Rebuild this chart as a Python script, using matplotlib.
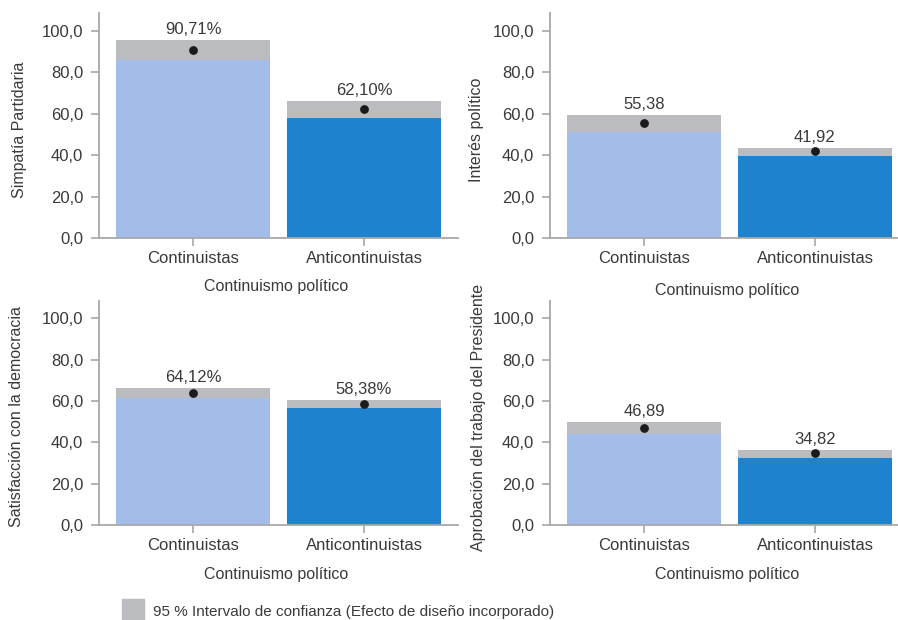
import matplotlib
matplotlib.use("Agg")
import matplotlib.pyplot as plt
from matplotlib.patches import Rectangle

plt.rcParams['font.family'] = ['Liberation Sans', 'DejaVu Sans']

categories = ["Continuistas", "Anticontinuistas"]
xlabel = "Continuismo político"

ylabels = ["Simpatía Partidaria", "Interés político",
           "Satisfacción con la democracia", "Aprobación del trabajo del Presidente"]

means_simpatia = [90.71, 62.10]
lower_simpatia = [85.8, 57.9]
upper_simpatia = [95.5, 66.1]

means_interes = [55.38, 41.92]
lower_interes = [51.2, 39.6]
upper_interes = [59.4, 43.5]

means_satisf = [64.12, 58.38]
lower_satisf = [61.4, 56.6]
upper_satisf = [66.2, 60.4]

means_aprob = [46.89, 34.82]
lower_aprob = [44.0, 32.5]
upper_aprob = [49.8, 36.3]

percent_flags = [True, False, True, False]
yticks = [0, 20, 40, 60, 80, 100]
legend_label = "95 % Intervalo de confianza (Efecto de diseño incorporado)"

bar_colors = ["#a3bde8", "#1e82ce"]
ci_color = "#bbbcc0"
text_color = "#3a3a3a"
spine_color = "#a8a8a8"
FS_TICK = 12
FS_LABEL = 11.5
FS_LEGEND = 11

W, H = 898, 620
fig = plt.figure(figsize=(W / 100, H / 100), dpi=100)

def px_axes(left, right, top, bottom):
    return fig.add_axes([left / W, 1 - bottom / H, (right - left) / W, (bottom - top) / H])

panels = [
    (means_simpatia, lower_simpatia, upper_simpatia, (99, 458, 13, 238.3), 20, 286.7),
    (means_interes, lower_interes, upper_interes, (550, 909, 13, 238.3), 477, 290),
    (means_satisf, lower_satisf, upper_satisf, (99, 458, 300.7, 525.3), 17, 575),
    (means_aprob, lower_aprob, upper_aprob, (550, 909, 300.7, 525.3), 479, 575),
]

for i, (m, lo, up, box, ylab_x, xlab_y) in enumerate(panels):
    ax = px_axes(*box)
    x = list(range(len(categories)))
    ax.bar(x, lo, width=0.9, color=bar_colors, zorder=2)
    ax.bar(x, [u - l for u, l in zip(up, lo)], bottom=lo, width=0.9, color=ci_color, zorder=2)
    ax.scatter(x, m, s=28, color="#1a1a1a", zorder=3)
    for xi, mi, ui in zip(x, m, up):
        s = f"{mi:.2f}".replace(".", ",") + ("%" if percent_flags[i] else "")
        ax.annotate(s, (xi, ui), xytext=(0, 4.5), textcoords="offset points",
                    ha="center", va="baseline", fontsize=FS_TICK, color=text_color)
    ax.set_xlim(-0.55, 1.55)
    ax.set_ylim(0, 108.5)
    ax.set_yticks(yticks)
    ax.set_yticklabels([f"{v:.1f}".replace(".", ",") for v in yticks])
    ax.set_xticks(x)
    ax.set_xticklabels(categories)
    for sp in ["top", "right"]:
        ax.spines[sp].set_visible(False)
    for sp in ["left", "bottom"]:
        ax.spines[sp].set_color(spine_color)
        ax.spines[sp].set_linewidth(1.3)
    ax.tick_params(axis="both", colors=spine_color, labelcolor=text_color,
                   labelsize=FS_TICK, length=5.5, width=1.2)
    ax.tick_params(axis="y", pad=6)
    ax.tick_params(axis="x", pad=4)
    left, right, top, bottom = box
    fig.text(ylab_x / W, 1 - ((top + bottom) / 2 + 4) / H, ylabels[i], rotation=90,
             ha="center", va="center", fontsize=FS_LABEL, color=text_color)
    fig.text(((left + right) / 2 - 2) / W, 1 - xlab_y / H, xlabel,
             ha="center", va="center", fontsize=FS_LABEL, color=text_color)

# legend
fig.patches.append(Rectangle((121.7 / W, 1 - 621 / H), 22.3 / W, 21.7 / H,
                             transform=fig.transFigure, color=ci_color))
fig.text(152.7 / W, 1 - 612 / H, legend_label, ha="left", va="center",
         fontsize=FS_LEGEND, color=text_color)

fig.savefig("out.png", dpi=100)
